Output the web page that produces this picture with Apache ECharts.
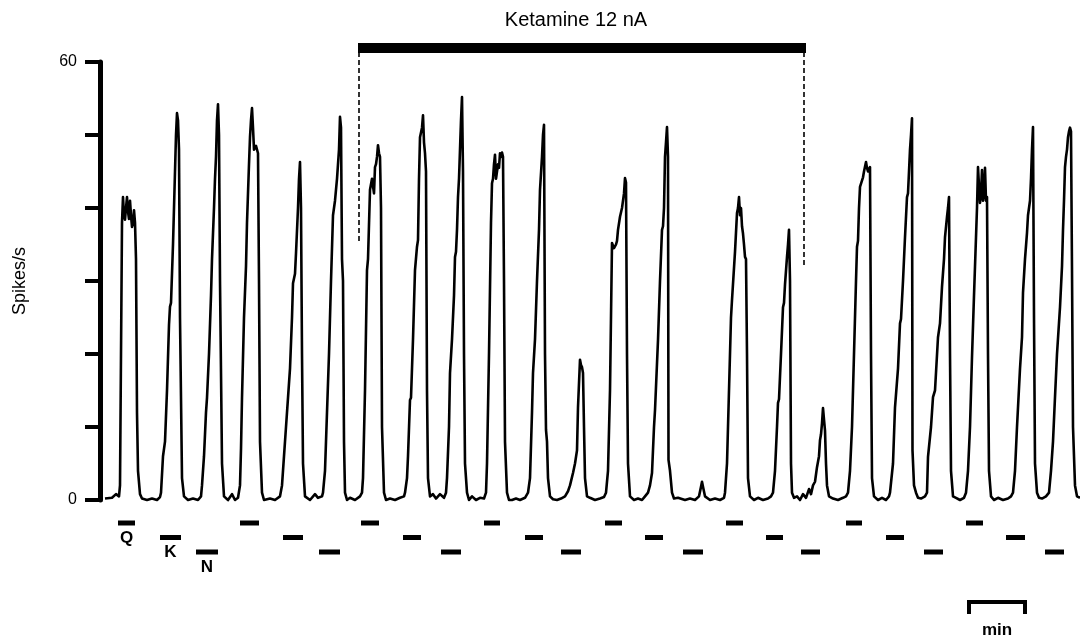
<!DOCTYPE html>
<html>
<head>
<meta charset="utf-8">
<script src="https://cdn.jsdelivr.net/npm/echarts@6/dist/echarts.min.js"></script>
<style>
html,body{margin:0;padding:0;background:#fff;}
#chart{width:1080px;height:636px;}
</style>
</head>
<body>
<div id="chart"></div>
<script>
// ---- DATA (time in seconds, firing rate in spikes/s) ----
const controlTrace = [
[5,0.2],[12,0.3],[16,0.8],[19,0.5],
[20,2],[22,38],[23,41.5],[24,39],[25,38.4],[26,40],[27,41.5],[28,39.5],[29,38.5],[30,41],[31,39],[32,37.4],[33,38],[34,39.7],[35,38],[36,33],[37,12],[38,4],[40,0.8],[42,0.2],
[47,0],[52,0.2],[57,0],[60,0.4],
[61,1],[63,6],[65,8],[67,15],[69,24],[70,26.5],[71,27],[73,35],[75,45],[76,50],[77,53],[78,52],[79,48],[80,25],[82,3],[84,0.5],
[88,0],[93,0.2],[98,0],[101,0.5],
[102,2],[104,6],[106,12],[107,14],[109,20],[111,28],[112,33],[114,40],[115,44],[116,47],[117,52],[118,54.2],[119,50],[120,30],[122,5],[124,0.5],
[128,0],[132,0.8],[135,0],[138,0.3],
[140,2],[141,7],[142,14],[144,25],[146,32],[147,38],[148,42],[149,46],[150,49.7],[151,52],[152,53.7],[153,51],[154,48],[156,48.5],[158,47.5],[159,30],[160,8],[162,1],[164,0],
[170,0.2],[175,0],[180,0.5],
[182,2],[184,6],[186,10],[188,14],[190,18],[192,25],[193,29.7],[195,31],[196,33.8],[198,40],[199,44],[200,46.3],[201,40],[202,20],[203,5],[205,0.5],
[210,0],[215,0.8],[218,0.3],[222,0.5],
[223,1],[225,4],[227,12],[229,20],[231,30],[233,39],[235,41],[237,44],[239,48],[240,52.5],[241,51],[242,33],[243,30],[244,8],[245,1],[247,0],
[250,0.3],[255,0]
];
const ketamineTrace = [
[260,0.5],
[262,1],[263,3],[265,15],[267,31.5],[268,33],[270,42.5],[272,44],[274,42],[275,45.6],[276,46],[277,47],[278,48.6],[279,47.5],[280,47],[281,40],[282,10],[284,1],[286,0],
[290,0.2],[295,0],[300,0.3],[304,0.5],
[305,1],[307,3],[308,6],[310,13.7],[311,14],[313,22],[315,31.5],[317,34.7],[318,35.6],[319,44],[320,49.7],[322,51],[323,52.7],[324,49],[325,47.5],[326,45],[327,15],[328,3],[330,0.5],
[333,0.8],[336,0.2],[340,0.8],[344,0.3],
[346,1],[347,3],[349,10],[350,17.4],[352,22],[354,28],[355,33.3],[356,34],[357,37],[358,41.5],[359,44],[360,48],[361,52],[362,55.2],[363,45],[364,20],[365,5],[367,1],[369,0],
[372,0.5],[376,0],[380,0.3],[384,0.2],
[386,1],[387,5],[389,20],[391,38],[392,43.4],[393,44],[394,46],[395,47.3],[396,44],[397,43.8],[398,46],[399,45.5],[400,47.5],[401,47],[402,47.6],[403,47],[404,30],[405,8],[407,1],[409,0],
[412,0],[416,0.2],[420,0],[425,0.3],
[428,1],[430,3],[432,12],[433,17.4],[434,17.6],[435,22],[437,30],[439,37],[440,42.5],[442,47],[443,50],[444,51.4],[445,20],[446,9.6],[447,8],[448,3],[450,0.5],
[453,0.1],[457,0],[461,0.2],[465,0.5],[468,1.2],
[470,2],[473,3.7],[475,5],[477,6.8],[478,12.7],[479,16],[480,19.2],[481,18.5],[482,18.2],[483,17.4],[484,10],[485,3],[487,0.5],
[490,0.3],[495,0],[500,0.2],[504,0.4],
[506,1],[508,4],[510,15],[512,35.2],[514,34.5],[516,35],[517,35.5],[518,37],[520,38.8],[522,40],[524,42],[525,44.1],[526,43.5],[527,20],[528,5],[530,0.5],
[534,0],[538,0.2],[542,0],[545,0.5],
[548,1],[550,2],[552,3.7],[554,10],[555,12.3],[556,12.5],[558,21.9],[560,30],[562,37],[563,37.5],[564,40],[565,47],[566,49],[567,51.1],[568,47],[568.5,5.5],[570,4],[572,1],[574,0.2],
[578,0.3],[585,0],[590,0.2],[595,0],[599,0.5],[601,1.8],[602,2.5],[603,1.8],[605,0.5],[610,0],[615,0.2],[620,0],[624,0.3],
[625,1],[627,5],[629,15],[631,25],[632,27.4],[633,27.6],[635,34],[637,39.3],[638,40],[639,41.5],[640,39],[641,40],[642,37.5],[643,36.5],[644,35],[645,33.3],[646,33],[647,20],[648,3],[650,0.5],
[654,0],[658,0.3],[663,0],[668,0.2],[671,0.5],
[673,1],[675,4],[677,10],[678,13.3],[679,13.8],[681,20],[683,26.4],[684,27],[685,29.5],[687,33.3],[688,35],[689,37],[690,30],[691,5],[692,1],[694,0.3],
[697,0.5],[700,0],[703,0.8],[706,0.3]
];
const recoveryTrace = [
[709,1.5],[711,0.8],[713,2],
[715,2.5],[717,4.5],[719,6],[720,8.2],[721,9],[722,10.5],[723,12.6],[724,11],[725,9.5],[726,5],[727,2],[729,0.5],
[733,0.2],[738,0],[743,0.3],[746,0.5],
[748,1],[750,4],[752,10],[754,20],[756,30],[757,34.7],[758,35.5],[759,40],[760,42.9],[761,43],[763,44.2],[764,45],[766,46.3],[767,45.5],[768,45],[770,45.6],[771,20],[772,3],[774,0.5],
[778,0],[782,0.3],[786,0],[789,0.5],
[790,1],[793,5],[795,12.7],[798,18],[800,24.2],[801,24.8],[803,30],[805,36],[807,41.5],[808,42],[809,45],[810,48],[811,50],[812,52.3],[812.5,6.8],[814,2],[816,1],[818,0.3],
[821,0.2],[825,0.5],
[827,1],[828,5.9],[831,10],[833,14.1],[835,15],[838,22.3],[840,24.2],[842,29.2],[844,33],[845,36],[847,38.8],[848,40],[849,41.5],[850,20],[851,4],[853,0.5],
[856,0.3],[860,0],[864,0.3],
[866,1],[868,4],[870,10],[872,19.6],[874,28],[876,36],[877,40],[878,45.6],[879,43],[880,40.7],[881,42],[882,45.2],[883,41],[884,42],[885,45.5],[886,41],[887,41.5],[888,20],[889,4],[891,0.5],
[894,0],[898,0.3],[903,0],[908,0.2],[911,0.5],
[913,1],[915,4],[917,10],[920,18],[922,22.3],[923,28.4],[925,33],[927,36.6],[928,39],[930,41],[931,44],[932,48],[933,51.1],[934,25],[935,5],[937,1],[939,0.3],
[942,0.2],[946,0.5],
[949,1],[951,4],[953,8],[955,14.1],[957,20],[960,26.4],[962,32],[963,37],[964,41],[965,45.6],[966,47],[967,48],[968,49.7],[969,50.5],[970,51],[971,50.5],[972,31.5],[973,10],[975,2],[977,0.5],[980,0.3]
];
// drug application periods (start s, end s)
const qApplications = [[18,35],[140,159],[261,279],[384,400],[505,522],[626,643],[746,762],[866,883]];
const kApplications = [[60,81],[183,203],[303,321],[425,443],[545,563],[666,683],[786,804],[906,925]];
const nApplications = [[96,118],[219,240],[341,361],[461,481],[583,603],[701,720],[824,843],[945,964]];
const drugNames = ['Q','K','N'];
const ketaminePeriod = [258, 706];
const ketamineLabel = 'Ketamine 12 nA';
const yTicks = [0,10,20,30,40,50,60];
const yTickLabels = {0:'0', 60:'60'};
const scaleBar = [867, 60]; // start s, length s
const scaleBarLabel = 'min';

// ---- CHART ----
const FONT = '"Liberation Sans", Arial, Helvetica, sans-serif';
const trace = controlTrace.concat(ketamineTrace, recoveryTrace);
const drugBars = [];
[qApplications, kApplications, nApplications].forEach((arr, row) => {
  arr.forEach((p, i) => drugBars.push([p[0], p[1], row, i === 0 ? drugNames[row] : '']));
});

const chart = echarts.init(document.getElementById('chart'));
chart.setOption({
  animation: false,
  backgroundColor: '#fff',
  grid: {left: 100, right: 0, top: 62, bottom: 136, containLabel: false, outerBoundsMode: 'none'},
  xAxis: {type: 'value', min: 0, max: 980, show: false},
  yAxis: {
    type: 'value', min: yTicks[0], max: yTicks[yTicks.length-1], interval: 10, offset: 2,
    name: 'Spikes/s', nameLocation: 'middle', nameGap: 69, nameRotate: 90,
    nameTextStyle: {fontFamily: FONT, fontSize: 18, color: '#000'},
    axisLine: {show: true, lineStyle: {color: '#000', width: 5}},
    axisTick: {show: true, length: 15, lineStyle: {color: '#000', width: 4}},
    axisLabel: {fontFamily: FONT, fontSize: 16, color: '#000', margin: 21,
      formatter: v => (yTickLabels[v] !== undefined ? yTickLabels[v] : '')},
    splitLine: {show: false}
  },
  series: [
    {
      type: 'line', data: trace, showSymbol: false, symbol: 'none', clip: false,
      lineStyle: {color: '#000', width: 2.6, join: 'round'}, z: 5
    },
    {
      type: 'custom', clip: false, silent: true, z: 6,
      data: [ketaminePeriod],
      renderItem: (params, api) => {
        const a = api.coord([api.value(0), 60]);
        const b = api.coord([api.value(1), 60]);
        const aLow = api.coord([api.value(0) + 1, 35.2]);
        const bLow = api.coord([api.value(1) - 2, 31.8]);
        return {type: 'group', children: [
          {type: 'rect', shape: {x: a[0], y: a[1] - 19, width: b[0] - a[0], height: 10}, style: {fill: '#000'}},
          {type: 'line', shape: {x1: aLow[0], y1: a[1] - 10, x2: aLow[0], y2: aLow[1]},
            style: {stroke: '#000', lineWidth: 1.6, lineDash: [5, 3]}},
          {type: 'line', shape: {x1: bLow[0], y1: b[1] - 10, x2: bLow[0], y2: bLow[1]},
            style: {stroke: '#000', lineWidth: 1.6, lineDash: [5, 3]}},
          {type: 'text', style: {text: ketamineLabel, x: (a[0] + b[0]) / 2 - 6, y: a[1] - 42,
            align: 'center', verticalAlign: 'middle', fill: '#000',
            fontFamily: FONT, fontSize: 20, fontWeight: 500}}
        ]};
      }
    },
    {
      type: 'custom', clip: false, silent: true, z: 6,
      data: drugBars,
      renderItem: (params, api) => {
        const d = drugBars[params.dataIndex];
        const s = api.coord([d[0], 0]);
        const e = api.coord([d[1], 0]);
        const y = s[1] + 23 + d[2] * 14.5;
        const children = [{type: 'rect', shape: {x: s[0], y: y - 2.5, width: e[0] - s[0], height: 5}, style: {fill: '#000'}}];
        if (d[3]) {
          children.push({type: 'text', style: {text: d[3], x: (s[0] + e[0]) / 2, y: y + 15,
            align: 'center', verticalAlign: 'middle', fill: '#000',
            fontFamily: FONT, fontSize: 17, fontWeight: 'bold'}});
        }
        return {type: 'group', children};
      }
    },
    {
      type: 'custom', clip: false, silent: true, z: 6,
      data: [scaleBar],
      renderItem: (params, api) => {
        const s = api.coord([api.value(0), 0]);
        const e = api.coord([api.value(0) + api.value(1), 0]);
        const y = s[1] + 102;
        return {type: 'group', children: [
          {type: 'polyline', shape: {points: [[s[0] + 2, y + 12], [s[0] + 2, y], [e[0] - 2, y], [e[0] - 2, y + 12]]},
            style: {stroke: '#000', lineWidth: 4, fill: null}},
          {type: 'text', style: {text: scaleBarLabel, x: (s[0] + e[0]) / 2, y: y + 20,
            align: 'center', verticalAlign: 'top', fill: '#000',
            fontFamily: FONT, fontSize: 17, fontWeight: 'bold'}}
        ]};
      }
    }
  ]
});
</script>
</body>
</html>
